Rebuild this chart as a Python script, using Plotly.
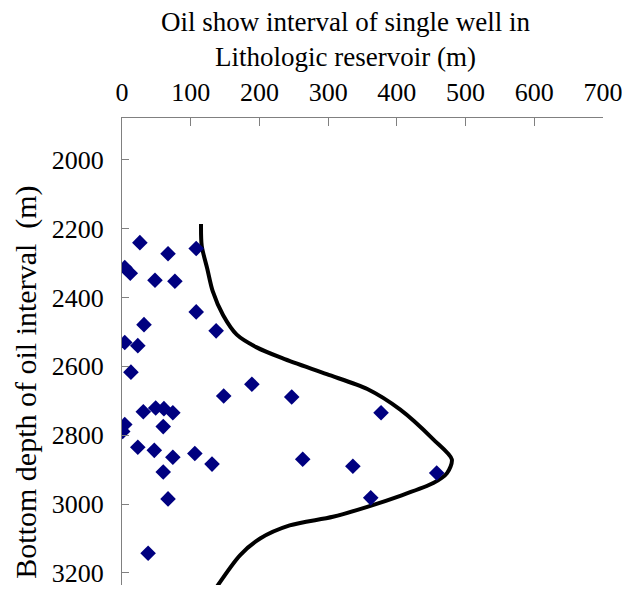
import plotly.graph_objects as go

# Oil show interval (m) of single wells vs. bottom depth of the oil interval (m)
well_interval = [26, 67, 108, 4, 12, 48, 77, 108, 32, 137, 4, 23, 13, 148, 189, 247,
                 31, 49, 61, 74, 60, 4, 1, 23, 47, 74, 106, 131, 60, 67, 38, 263,
                 377, 336, 458, 362]
well_depth = [2241, 2273, 2258, 2313, 2330, 2350, 2353, 2442, 2479, 2497, 2531, 2540,
              2617, 2686, 2652, 2689, 2732, 2721, 2723, 2735, 2775, 2769, 2789, 2835,
              2844, 2864, 2853, 2884, 2907, 2985, 3143, 2870, 2735, 2890, 2910, 2982]

# Envelope curve traced along depth
curve_interval = [115, 116, 124, 132, 147, 167, 196, 234, 298, 357, 405, 453, 480,
                  473, 453, 405, 357, 307, 244, 201, 172, 138]
curve_depth = [2187, 2250, 2316, 2382, 2451, 2508, 2545, 2577, 2623, 2666, 2726, 2812,
               2870, 2910, 2939, 2976, 3008, 3037, 3062, 3100, 3148, 3240]

x_ticks = [0, 100, 200, 300, 400, 500, 600, 700]
y_ticks = [2000, 2200, 2400, 2600, 2800, 3000, 3200]

FONT = "Liberation Serif"
AXIS_GRAY = "#808080"

fig = go.Figure()

fig.add_trace(go.Scatter(
    x=curve_interval, y=curve_depth, mode="lines",
    line=dict(color="black", width=4, shape="spline", smoothing=0.8),
    hoverinfo="skip", showlegend=False,
))

fig.add_trace(go.Scatter(
    x=well_interval, y=well_depth, mode="markers",
    marker=dict(symbol="diamond", size=12, color="#000080", line=dict(width=0)),
    showlegend=False,
))

fig.update_layout(
    width=622, height=589,
    margin=dict(l=122, r=19, t=118, b=4),
    paper_bgcolor="white", plot_bgcolor="white",
    font=dict(family=FONT, size=26, color="black"),
    xaxis=dict(
        side="top", range=[0, 700], tickvals=x_ticks,
        ticks="inside", ticklen=8, tickwidth=1, tickcolor=AXIS_GRAY,
        showline=True, linecolor=AXIS_GRAY, linewidth=1,
        showgrid=False, zeroline=False, ticklabelstandoff=6,
        ticklabeloverflow="allow", automargin=False,
        tickfont=dict(family=FONT, size=26, color="black"),
    ),
    yaxis=dict(
        range=[3235, 1879], tickvals=y_ticks,
        ticks="inside", ticklen=7, tickwidth=1, tickcolor=AXIS_GRAY,
        showline=True, linecolor=AXIS_GRAY, linewidth=1,
        showgrid=False, zeroline=False, ticklabelstandoff=12,
        ticklabeloverflow="allow", automargin=False,
        tickfont=dict(family=FONT, size=26, color="black"),
    ),
    annotations=[
        dict(text="Oil show interval of single well in<br>Lithologic reservoir (m)",
             xref="paper", yref="paper", x=0.464, y=1.168,
             xanchor="center", yanchor="middle", showarrow=False,
             font=dict(family=FONT, size=27, color="black")),
        dict(text="Bottom depth of oil interval\u00a0\u00a0(m)",
             xref="paper", yref="paper", x=-0.2, y=0.435,
             xanchor="center", yanchor="middle", textangle=-90, showarrow=False,
             font=dict(family=FONT, size=30, color="black")),
    ],
)

fig.write_html("out.html")
